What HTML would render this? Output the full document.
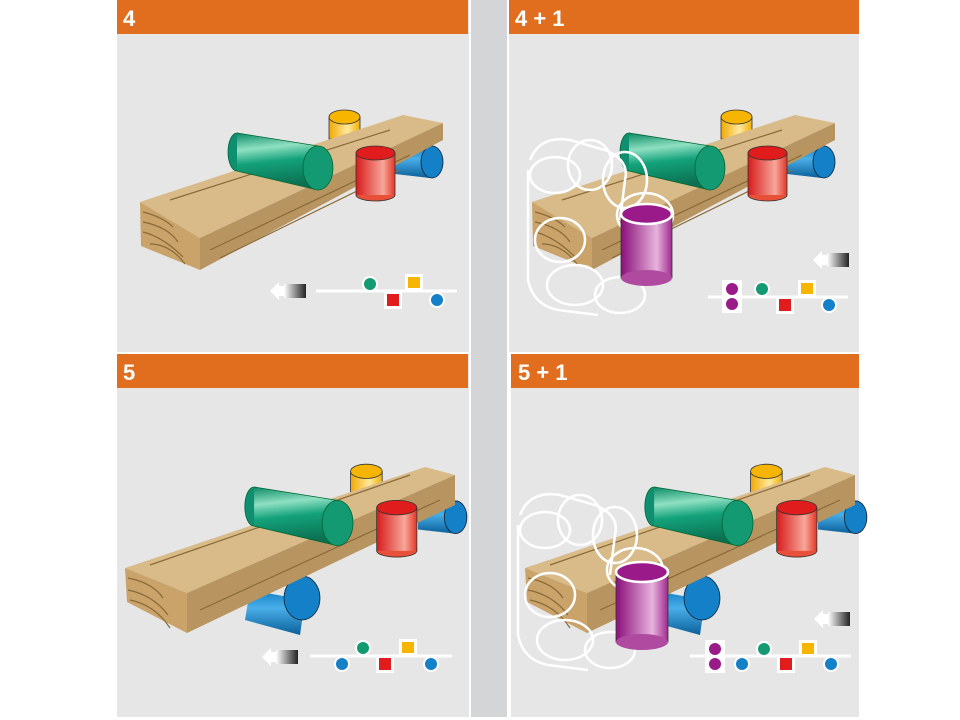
<!DOCTYPE html>
<html><head><meta charset="utf-8"><style>
html,body{margin:0;padding:0;background:#fff;width:960px;height:720px;overflow:hidden}
svg{display:block}
text{font-family:"Liberation Sans",sans-serif;font-weight:bold;fill:#fff}
</style></head><body>
<svg width="960" height="720" viewBox="0 0 960 720" xmlns="http://www.w3.org/2000/svg">
<defs>
<linearGradient id="gG" x1="0" y1="0" x2="0.15" y2="1"><stop offset="0" stop-color="#0a8a63"/><stop offset="0.3" stop-color="#8fe0c2"/><stop offset="0.55" stop-color="#13a27a"/><stop offset="1" stop-color="#0b6e50"/></linearGradient>
<linearGradient id="rG" x1="0" y1="0" x2="1" y2="0"><stop offset="0" stop-color="#d81e1e"/><stop offset="0.7" stop-color="#f7a79a"/><stop offset="1" stop-color="#e43a2a"/></linearGradient>
<linearGradient id="yG" x1="0" y1="0" x2="1" y2="0"><stop offset="0" stop-color="#f2a800"/><stop offset="0.6" stop-color="#ffe9a0"/><stop offset="1" stop-color="#f2b000"/></linearGradient>
<linearGradient id="bG" x1="0" y1="0" x2="0" y2="1"><stop offset="0" stop-color="#1080c8"/><stop offset="0.4" stop-color="#4aaee8"/><stop offset="1" stop-color="#0a5f9a"/></linearGradient>
<linearGradient id="pG" x1="0" y1="0" x2="1" y2="0"><stop offset="0" stop-color="#8a0f7a"/><stop offset="0.7" stop-color="#e6b3dc"/><stop offset="1" stop-color="#a0288f"/></linearGradient>
<linearGradient id="aG" x1="0" y1="0" x2="1" y2="0"><stop offset="0" stop-color="#fff"/><stop offset="1" stop-color="#222"/></linearGradient>
<g id="arrow"><polygon points="0,0 9,-9 9,-5 14,-5 14,5 9,5 9,9" fill="#fff"/><rect x="14" y="-7" width="22" height="14" fill="url(#aG)"/></g>
<g id="tops">
 <rect x="329" y="117" width="31" height="22" fill="url(#yG)" stroke="#333" stroke-width="0.8"/>
 <ellipse cx="344.5" cy="117" rx="15.5" ry="7" fill="#f7b500" stroke="#333" stroke-width="0.8"/>
 <polygon points="395,150 430,146 430,178 395,174" fill="url(#bG)"/>
 <ellipse cx="432" cy="162" rx="11" ry="16" fill="#1480c8" stroke="#123" stroke-width="0.8"/>
</g>
<g id="plankTop">
 <polygon points="140,202 403,115 443,123 200,238" fill="#d8bb88"/>
 <polygon points="200,238 443,123 443,140 200,270" fill="#b89560"/>
 <polygon points="140,202 200,238 200,270 141,246" fill="#c9a36a"/>
 <path d="M143,212 q20,5 30,15 M143,222 q25,5 35,20 M143,232 q20,5 40,25 M150,244 q20,0 35,20 M210,250 l200,-95 M220,258 l180,-88 M170,200 l220,-70" stroke="#8a6a38" stroke-width="1.2" fill="none"/>
</g>
<g id="frontCyl">
 <ellipse cx="237" cy="152" rx="9" ry="19" fill="#0e9070" stroke="#063" stroke-width="0.8"/>
 <polygon points="237,133 318,146 318,190 237,171" fill="url(#gG)"/>
 <line x1="237" y1="133" x2="318" y2="146" stroke="#063" stroke-width="0.8"/>
 <line x1="237" y1="171" x2="318" y2="190" stroke="#063" stroke-width="0.8"/>
 <ellipse cx="318" cy="168" rx="15" ry="22" fill="#139a72" stroke="#063" stroke-width="0.8"/>
 <rect x="356" y="153" width="39" height="42" fill="url(#rG)" stroke="#333" stroke-width="0.8"/>
 <ellipse cx="375.5" cy="195" rx="19.5" ry="6" fill="#e8503a" stroke="#333" stroke-width="0.8"/>
 <rect x="356.5" y="153" width="38" height="42" fill="url(#rG)"/>
 <ellipse cx="375.5" cy="153" rx="19.5" ry="7" fill="#e01c1c" stroke="#333" stroke-width="0.8"/>
</g>
<g id="scene"><use href="#tops"/><use href="#plankTop"/><use href="#frontCyl"/></g>
<g id="ghost" fill="none" stroke="#fff" stroke-width="2.5">
 <path d="M530,160 q10,-25 40,-20 l35,10 q25,10 20,30 l-5,40 M528,170 l0,110 q5,25 30,30 l40,5"/>
 <ellipse cx="555" cy="175" rx="25" ry="18"/>
 <ellipse cx="590" cy="165" rx="22" ry="25"/>
 <ellipse cx="625" cy="180" rx="22" ry="28"/>
 <ellipse cx="560" cy="240" rx="25" ry="22"/>
 <ellipse cx="575" cy="285" rx="28" ry="20"/>
 <ellipse cx="620" cy="295" rx="25" ry="18"/>
 <ellipse cx="645" cy="215" rx="28" ry="22"/>
</g>
</defs>
<rect x="117" y="0" width="352" height="352" fill="#e6e6e6"/>
<rect x="509" y="0" width="350" height="352" fill="#e6e6e6"/>
<rect x="117" y="354" width="352" height="363" fill="#e6e6e6"/>
<rect x="511" y="354" width="348" height="363" fill="#e6e6e6"/>
<rect x="471" y="0" width="36" height="717" fill="#d4d5d7"/>
<rect x="117" y="0" width="351" height="34" fill="#e06e1e"/>
<rect x="509" y="0" width="350" height="34" fill="#e06e1e"/>
<rect x="117" y="354" width="351" height="34" fill="#e06e1e"/>
<rect x="511" y="354" width="348" height="34" fill="#e06e1e"/>
<text x="123" y="26" font-size="22">4</text>
<text x="515" y="26" font-size="22">4 + 1</text>
<text x="123" y="380" font-size="22">5</text>
<text x="518" y="380" font-size="22">5 + 1</text>

<use href="#scene"/>
<use href="#arrow" x="270" y="291"/>
<line x1="316" y1="291" x2="457" y2="291" stroke="#fff" stroke-width="3"/>
<circle cx="370" cy="284" r="8" fill="#fff"/><circle cx="370" cy="284" r="6" fill="#139a72"/>
<rect x="384" y="291" width="18" height="18" fill="#fff"/><rect x="387" y="294" width="12" height="12" fill="#e01c1c"/>
<rect x="405" y="274" width="18" height="17" fill="#fff"/><rect x="408" y="277" width="12" height="11" fill="#f7b500"/>
<circle cx="437" cy="300" r="8" fill="#fff"/><circle cx="437" cy="300" r="6" fill="#1480c8"/>

<g transform="translate(392,0)"><use href="#scene"/></g>
<use href="#ghost"/>
<rect x="621" y="214" width="51" height="64" fill="url(#pG)" stroke="#333" stroke-width="0.8"/>
<ellipse cx="646.5" cy="278" rx="25.5" ry="8" fill="#b04aa0"/>
<ellipse cx="646.5" cy="214" rx="25.5" ry="10" fill="#9a1a8a" stroke="#fff" stroke-width="2.5"/>
<use href="#arrow" x="813" y="260"/>
<line x1="708" y1="297" x2="848" y2="297" stroke="#fff" stroke-width="3"/>
<rect x="722" y="280" width="20" height="33" fill="#fff"/>
<circle cx="732" cy="289" r="6" fill="#9a1a8a"/><circle cx="732" cy="304" r="6" fill="#9a1a8a"/>
<circle cx="762" cy="289" r="8" fill="#fff"/><circle cx="762" cy="289" r="6" fill="#139a72"/>
<rect x="776" y="297" width="18" height="17" fill="#fff"/><rect x="779" y="299" width="12" height="12" fill="#e01c1c"/>
<rect x="798" y="280" width="18" height="17" fill="#fff"/><rect x="801" y="283" width="12" height="11" fill="#f7b500"/>
<circle cx="829" cy="305" r="8" fill="#fff"/><circle cx="829" cy="305" r="6" fill="#1480c8"/>

<g id="bscene">
<g transform="translate(15,352) scale(1.02)"><use href="#tops"/></g>
<polygon points="250,590 305,600 300,635 245,620" fill="url(#bG)"/>
<ellipse cx="302" cy="598" rx="18" ry="22" fill="#1480c8" stroke="#123" stroke-width="0.8"/>
<polygon points="125,568 425,467 455,475 187,593" fill="#d8bb88"/>
<polygon points="187,593 455,475 455,505 187,633" fill="#b89560"/>
<polygon points="125,568 187,593 187,633 127,602" fill="#c9a36a"/>
<path d="M128,578 q25,5 35,20 M128,590 q25,5 40,25 M130,600 q25,5 40,28 M200,610 l240,-110 M150,565 l260,-90" stroke="#8a6a38" stroke-width="1.2" fill="none"/>
<g transform="translate(10,350) scale(1.03)"><use href="#frontCyl"/></g>
</g>
<use href="#arrow" x="262" y="657"/>
<line x1="310" y1="656" x2="452" y2="656" stroke="#fff" stroke-width="3"/>
<circle cx="342" cy="664" r="8" fill="#fff"/><circle cx="342" cy="664" r="6" fill="#1480c8"/>
<circle cx="363" cy="648" r="8" fill="#fff"/><circle cx="363" cy="648" r="6" fill="#139a72"/>
<rect x="376" y="655" width="18" height="18" fill="#fff"/><rect x="379" y="658" width="12" height="12" fill="#e01c1c"/>
<rect x="399" y="639" width="18" height="17" fill="#fff"/><rect x="402" y="642" width="12" height="11" fill="#f7b500"/>
<circle cx="431" cy="664" r="8" fill="#fff"/><circle cx="431" cy="664" r="6" fill="#1480c8"/>

<g transform="translate(400,0)"><use href="#bscene"/></g>
<g transform="translate(-10,355)"><use href="#ghost"/></g>
<rect x="616" y="572" width="52" height="70" fill="url(#pG)" stroke="#333" stroke-width="0.8"/>
<ellipse cx="642" cy="642" rx="26" ry="8" fill="#b04aa0"/>
<ellipse cx="642" cy="572" rx="26" ry="10" fill="#9a1a8a" stroke="#fff" stroke-width="2.5"/>
<use href="#arrow" x="814" y="619"/>
<line x1="690" y1="656" x2="851" y2="656" stroke="#fff" stroke-width="3"/>
<rect x="705" y="640" width="20" height="33" fill="#fff"/>
<circle cx="715" cy="649" r="6" fill="#9a1a8a"/><circle cx="715" cy="664" r="6" fill="#9a1a8a"/>
<circle cx="742" cy="664" r="8" fill="#fff"/><circle cx="742" cy="664" r="6" fill="#1480c8"/>
<circle cx="764" cy="649" r="8" fill="#fff"/><circle cx="764" cy="649" r="6" fill="#139a72"/>
<rect x="777" y="656" width="18" height="17" fill="#fff"/><rect x="780" y="658" width="12" height="12" fill="#e01c1c"/>
<rect x="799" y="640" width="18" height="17" fill="#fff"/><rect x="802" y="643" width="12" height="11" fill="#f7b500"/>
<circle cx="831" cy="664" r="8" fill="#fff"/><circle cx="831" cy="664" r="6" fill="#1480c8"/>
</svg>
</body></html>
